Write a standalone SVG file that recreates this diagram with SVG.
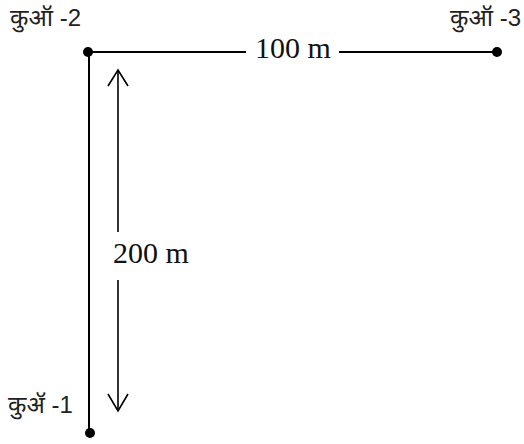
<svg xmlns="http://www.w3.org/2000/svg" width="524" height="444" viewBox="0 0 524 444">
<style>
.ln{stroke:#000;stroke-width:2;fill:none}
.ar{stroke:#000;stroke-width:1.6;fill:none}
.lbl{font-family:"Liberation Sans","Noto Sans Devanagari","Noto Sans",sans-serif;font-size:24px;fill:#222}
.dim{font-family:"Liberation Serif","Times New Roman",serif;font-size:30px;fill:#111}
</style>
<rect width="524" height="444" fill="#fff"/>
<g id="connectors">
<path class="ln" d="M88 52H246M339 52H497"/>
<path class="ln" d="M89 52V433"/>
<path class="ar" d="M118 70V232M118 280V411"/>
<path class="ar" d="M108 86L118 70L128 86"/>
<path class="ar" d="M108 394L118 411L128 394"/>
<text class="dim" x="255" y="58">100 m</text>
<text class="dim" x="113" y="263">200 m</text>
</g>
<g id="well2">
<circle cx="88" cy="52" r="5" fill="#000"/>
<text class="lbl" x="10" y="26">कुऑ -2</text>
</g>
<g id="well3">
<circle cx="497" cy="52" r="5" fill="#000"/>
<text class="lbl" x="521" y="26" text-anchor="end">कुऑ -3</text>
</g>
<g id="well1">
<circle cx="90" cy="433" r="5" fill="#000"/>
<text class="lbl" x="8" y="413">कुॲ -1</text>
</g>
</svg>
